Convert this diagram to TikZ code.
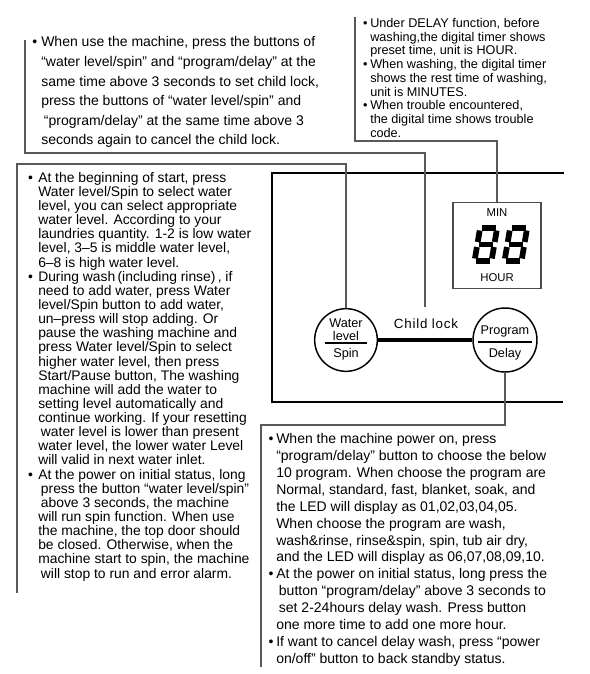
\documentclass[tikz,border=0pt]{standalone}
\usepackage{fontspec}
\setmainfont{Liberation Sans}
\usetikzlibrary{positioning}
\tikzset{
  leader/.style={draw=black!65, line width=0.8pt},
  panel/.style={line width=1.9pt},
  lockbar/.style={line width=3pt},
  button/.style={circle, draw, line width=1.1pt, minimum size=47pt, inner sep=0pt},
  divider/.style={line width=0.9pt},
  btnlabel/.style={font=\fontsize{9.5}{9.5}\selectfont, inner sep=0pt, align=center},
  lcd/.style={draw=black!70, line width=0.8pt, minimum width=66pt, minimum height=65pt, inner sep=0pt},
  lcdlabel/.style={font=\fontsize{8.5}{10}\selectfont, inner sep=0pt},
  segment/.style={line width=4.3pt},
  notebox/.style={anchor=north west, align=left, inner sep=0pt}
}

\begin{document}
\begin{tikzpicture}[x=0.75pt, y=-0.75pt]
  \useasboundingbox (0,0) rectangle (589,674);

  % control panel
  \coordinate (panelTR) at (564,173);
  \coordinate (panelBR) at (563,402);
  \draw[panel] (panelTR) -- ++(-292,0) -- ++(0,229) -- (panelBR);

  \node[button] (water) at (346,340) {};
  \node[button, minimum size=48pt] (prog) at (505,340) {};
  \draw[lockbar] (water) -- (prog);
  \node[btnlabel] (wlabel) at (346,330) {Water\\level};
  \node[btnlabel] (spin) at (346,354) {Spin};
  \draw[divider] ([xshift=-16pt,yshift=-2.25pt]water.center) -- ([xshift=16pt,yshift=-2.25pt]water.center);
  \node[btnlabel] (plabel) at (505,331) {Program};
  \node[btnlabel] (delay) at (505,354) {Delay};
  \draw[divider] ([xshift=-20pt,yshift=-1.5pt]prog.center) -- ([xshift=20pt,yshift=-1.5pt]prog.center);
  \node[inner sep=0pt, font=\fontsize{10}{12}\selectfont\addfontfeatures{LetterSpace=6}] (locklabel) at (426,324) {Child lock};

  % display
  \node[lcd] (disp) at (497,245.5) {};
  \node[lcdlabel] (min) at (497,213) {MIN};
  \node[lcdlabel] (hour) at (497,278) {HOUR};
  \foreach \dx in {471,501}{
    \begin{scope}[shift={(\dx,264)}, xslant=0.17]
      \foreach \ax/\ay/\bx/\by in {4.5/-36/18.5/-36, 4.5/-19.5/18.5/-19.5, 4.5/-3/18.5/-3,
          3/-33.5/3/-22, 20/-33.5/20/-22, 3/-17/3/-5.5, 20/-17/20/-5.5}
        \draw[segment] (\ax,\ay) -- (\bx,\by);
    \end{scope}
  }

  % notes
  \node[notebox, font=\fontsize{10.5}{14.7}\selectfont] (locknote) at (41,36.5) {%
    \llap{•\hspace{3pt}}When use the machine, press the buttons of\\
    “water level/spin” and “program/delay” at the\\
    same time above 3 seconds to set child lock,\\
    press the buttons of “water level/spin” and\\
    \hspace{2pt}“program/delay” at the same time above 3\\
    seconds again to cancel the child lock.};

  \node[notebox, font=\fontsize{9.5}{10.3}\selectfont] (timernote) at (370,18) {%
    \llap{•\hspace{2pt}}Under DELAY function, before\\
    washing,the digital timer shows\\
    preset time, unit is HOUR.\\
    \llap{•\hspace{2pt}}When washing, the digital timer\\
    shows the rest time of washing,\\
    unit is MINUTES.\\
    \llap{•\hspace{2pt}}When trouble encountered,\\
    the digital time shows trouble\\
    code.};

  \node[notebox, font=\fontsize{10.4}{10.6}\selectfont] (levelnote) at (38,172) {%
    \llap{•\hspace{4pt}}At the beginning of start, press\\
    Water level/Spin to select water\\
    level, you can select appropriate\\
    water level. According to your\\
    laundries quantity. 1-2 is low water\\
    level, 3–5 is middle water level,\\
    6–8 is high water level.\\
    \llap{•\hspace{4pt}}During wash\,(including rinse)\,, if\\
    need to add water, press Water\\
    level/Spin button to add water,\\
    un–press will stop adding. Or\\
    pause the washing machine and\\
    press Water level/Spin to select\\
    higher water level, then press\\
    Start/Pause button, The washing\\
    machine will add the water to\\
    setting level automatically and\\
    continue working. If your resetting\\
    \hspace{2pt}water level is lower than present\\
    water level, the lower water Level\\
    will valid in next water inlet.\\
    \llap{•\hspace{4pt}}At the power on initial status, long\\
    \hspace{2pt}press the button “water level/spin”\\
    \hspace{2pt}above 3 seconds, the machine\\
    will run spin function. When use\\
    the machine, the top door should\\
    be closed. Otherwise, when the\\
    machine start to spin, the machine\\
    \hspace{2pt}will stop to run and error alarm.};

  \node[notebox, font=\fontsize{10.5}{12.7}\selectfont] (prognote) at (276,433) {%
    \llap{•\hspace{2pt}}When the machine power on, press\\
    “program/delay” button to choose the below\\
    10 program. When choose the program are\\
    Normal, standard, fast, blanket, soak, and\\
    the LED will display as 01,02,03,04,05.\\
    When choose the program are wash,\\
    wash\&rinse, rinse\&spin, spin, tub air dry,\\
    and the LED will display as 06,07,08,09,10.\\
    \llap{•\hspace{2pt}}At the power on initial status, long press the\\
    \hspace{2pt}button “program/delay” above 3 seconds to\\
    \hspace{2pt}set 2-24hours delay wash. Press button\\
    one more time to add one more hour.\\
    \llap{•\hspace{2pt}}If want to cancel delay wash, press “power\\
    on/off” button to back standby status.};

  % leader lines
  \coordinate (lockTop) at (25,40);
  \coordinate (lockEnd) at (425,307);
  \draw[leader] (lockTop) -- ++(0,113) -| (lockEnd);
  \coordinate (timerTop) at (355,17);
  \draw[leader] (timerTop) -- ++(0,124) -| (disp.north);
  \coordinate (levelBot) at (17,593);
  \draw[leader] (levelBot) -- ++(0,-429) -| (water.north);
  \coordinate (progBot) at (261,667);
  \draw[leader] (progBot) -- ++(0,-242) -| (prog.south);
\end{tikzpicture}
\end{document}
